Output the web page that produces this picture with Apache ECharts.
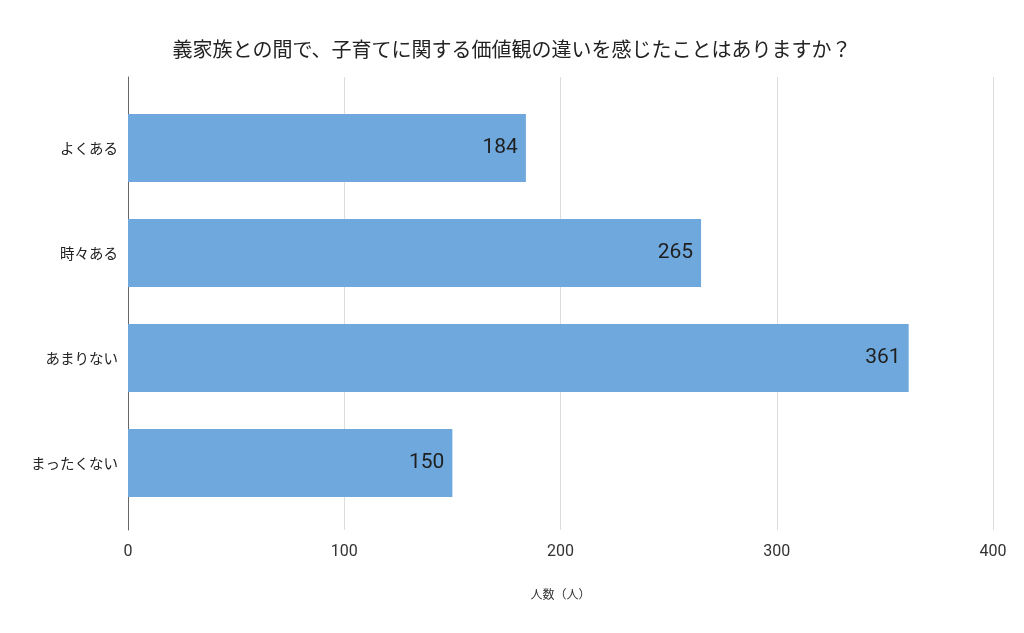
<!DOCTYPE html>
<html>
<head>
<meta charset="utf-8">
<script src="https://cdn.jsdelivr.net/npm/echarts@6/dist/echarts.min.js"></script>
<style>
  html, body { margin: 0; padding: 0; background: #fff; }
  #chart { width: 1024px; height: 633px; }
</style>
</head>
<body>
<div id="chart"></div>
<script>
// データ
const categories = ["よくある", "時々ある", "あまりない", "まったくない"];
const counts = [184, 265, 361, 150];
const xTicks = [0, 100, 200, 300, 400];

const jpFont = '"Noto Sans CJK JP", sans-serif';

const option = {
    title: {
        text: "義家族との間で、子育てに関する価値観の違いを感じたことはありますか？",
        left: "center",
        top: 34,
        textStyle: { color: "#222", fontSize: 20, fontWeight: "normal", fontFamily: jpFont },
    },
    grid: [
        // 外枠（グリッド線と縦軸線）
        { left: 128, right: 31, top: 77, bottom: 103 },
        // 棒グラフ
        { left: 128, right: 31, top: 95.5, bottom: 117.5 },
    ],
    xAxis: [
        {
            gridIndex: 0,
            type: "value",
            min: xTicks[0],
            max: xTicks[xTicks.length - 1],
            interval: 100,
            axisLine: { show: false },
            axisTick: { show: false },
            splitLine: { lineStyle: { color: "#dcdcdc", width: 1 } },
            axisLabel: { color: "#333", fontSize: 16, margin: 14, fontFamily: "Roboto" },
            name: "人数（人）",
            nameLocation: "middle",
            nameGap: 58,
            nameTextStyle: { color: "#333", fontSize: 12, fontFamily: jpFont },
        },
        { gridIndex: 1, type: "value", min: 0, max: 400, show: false },
    ],
    yAxis: [
        {
            gridIndex: 0,
            type: "value",
            min: 0,
            max: 1,
            axisLine: { show: true, lineStyle: { color: "#666", width: 1 } },
            axisTick: { show: false },
            axisLabel: { show: false },
            splitLine: { show: false },
        },
        {
            gridIndex: 1,
            type: "category",
            inverse: true,
            data: categories,
            axisLine: { show: false },
            axisTick: { show: false },
            axisLabel: { color: "#222", fontSize: 14.5, margin: 10, fontFamily: jpFont },
        },
    ],
    series: [
        {
            type: "bar",
            xAxisIndex: 1,
            yAxisIndex: 1,
            data: counts,
            barWidth: 68,
            itemStyle: { color: "#6fa8dc" },
            label: {
                show: true,
                position: "insideRight",
                distance: 8,
                color: "#1f1f1f",
                fontSize: 21,
                fontFamily: "Roboto",
            },
            z: 1,
        },
    ],
};

echarts.init(document.getElementById("chart")).setOption(option);
</script>
</body>
</html>
